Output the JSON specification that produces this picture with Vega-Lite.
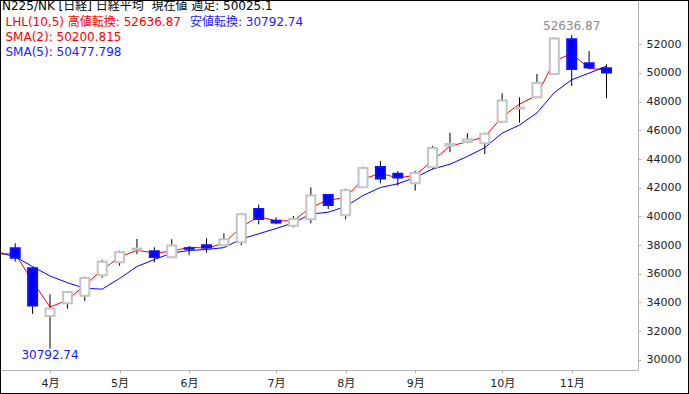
{
  "$schema": "https://vega.github.io/schema/vega-lite/v6.json",
  "width": 687,
  "height": 392,
  "padding": 1,
  "autosize": {"type": "none"},
  "background": "#000000",
  "config": {
    "view": {"fill": "#ffffff", "stroke": null},
    "font": "DejaVu Sans, Noto Sans CJK JP",
    "axis": {"labelOverlap": false, "labelFlush": false},
    "scale": {"continuousPadding": 0}
  },
  "datasets": {
    "candles": [
      {"d": "2025-03-17T00:00:00", "s2": 37365.08, "s5": 37509.95},
      {"d": "2025-03-24T00:00:00", "o": 37775, "h": 38124, "l": 36850, "c": 37120.33, "s2": 37398.70, "s5": 37178.63},
      {"d": "2025-03-31T00:00:00", "o": 36380, "h": 36450, "l": 33200, "c": 33780.58, "s2": 35450.46, "s5": 36503.65},
      {"d": "2025-04-07T00:00:00", "o": 33054, "h": 34567, "l": 30792.74, "c": 33585.58, "s2": 33683.08, "s5": 35843.33},
      {"d": "2025-04-14T00:00:00", "o": 33940, "h": 34760, "l": 33563, "c": 34730.28, "s2": 34157.93, "s5": 35378.77},
      {"d": "2025-04-21T00:00:00", "o": 34470, "h": 35795, "l": 34100, "c": 35705.74, "s2": 35218.01, "s5": 34984.50},
      {"d": "2025-04-28T00:00:00", "o": 35892, "h": 36959, "l": 35725, "c": 36830.69, "s2": 36268.22, "s5": 34926.57},
      {"d": "2025-05-05T00:00:00", "o": 36799, "h": 37608, "l": 36562, "c": 37503.33, "s2": 37167.01, "s5": 35671.12},
      {"d": "2025-05-12T00:00:00", "o": 37680, "h": 38424, "l": 37357, "c": 37753.72, "s2": 37628.53, "s5": 36504.75},
      {"d": "2025-05-19T00:00:00", "o": 37566, "h": 37845, "l": 36799, "c": 37160.47, "s2": 37457.10, "s5": 36990.79},
      {"d": "2025-05-26T00:00:00", "o": 37148, "h": 38403, "l": 37100, "c": 37965.10, "s2": 37562.79, "s5": 37442.66},
      {"d": "2025-06-02T00:00:00", "o": 37780, "h": 37935, "l": 37287, "c": 37741.61, "s2": 37853.36, "s5": 37624.85},
      {"d": "2025-06-09T00:00:00", "o": 37984, "h": 38472, "l": 37468, "c": 37834.25, "s2": 37787.93, "s5": 37691.03},
      {"d": "2025-06-16T00:00:00", "o": 37984, "h": 38821, "l": 37950, "c": 38403.23, "s2": 38118.74, "s5": 37820.93},
      {"d": "2025-06-23T00:00:00", "o": 38193, "h": 40215, "l": 37984, "c": 40150.79, "s2": 39277.01, "s5": 38419.00},
      {"d": "2025-06-30T00:00:00", "o": 40515, "h": 40815, "l": 39449, "c": 39810.88, "s2": 39980.84, "s5": 38788.15},
      {"d": "2025-07-07T00:00:00", "o": 39700, "h": 39937, "l": 39449, "c": 39569.68, "s2": 39690.28, "s5": 39153.77},
      {"d": "2025-07-14T00:00:00", "o": 39351, "h": 40027, "l": 39239, "c": 39819.11, "s2": 39694.40, "s5": 39550.74},
      {"d": "2025-07-21T00:00:00", "o": 39797, "h": 42029, "l": 39518, "c": 41456.23, "s2": 40637.67, "s5": 40161.34},
      {"d": "2025-07-28T00:00:00", "o": 41492, "h": 41550, "l": 40515, "c": 40799.60, "s2": 41127.92, "s5": 40291.10},
      {"d": "2025-08-04T00:00:00", "o": 40076, "h": 41931, "l": 39797, "c": 41820.48, "s2": 41310.04, "s5": 40693.02},
      {"d": "2025-08-11T00:00:00", "o": 42029, "h": 43465, "l": 41990, "c": 43378.31, "s2": 42599.40, "s5": 41454.75},
      {"d": "2025-08-18T00:00:00", "o": 43444, "h": 43862, "l": 42308, "c": 42633.29, "s2": 43005.80, "s5": 42017.58},
      {"d": "2025-08-25T00:00:00", "o": 42977, "h": 43165, "l": 42140, "c": 42718.47, "s2": 42675.88, "s5": 42270.03},
      {"d": "2025-09-01T00:00:00", "o": 42308, "h": 43165, "l": 41792, "c": 43018.75, "s2": 42868.61, "s5": 42713.86},
      {"d": "2025-09-08T00:00:00", "o": 43423, "h": 44908, "l": 43284, "c": 44768.12, "s2": 43893.44, "s5": 43303.39},
      {"d": "2025-09-15T00:00:00", "o": 44930, "h": 45836, "l": 44469, "c": 45045.81, "s2": 44906.97, "s5": 43636.89},
      {"d": "2025-09-22T00:00:00", "o": 45190, "h": 45794, "l": 45097, "c": 45354.99, "s2": 45200.40, "s5": 44181.23},
      {"d": "2025-09-29T00:00:00", "o": 45097, "h": 45830, "l": 44350, "c": 45769.50, "s2": 45562.25, "s5": 44791.43},
      {"d": "2025-10-06T00:00:00", "o": 46603, "h": 48583, "l": 46550, "c": 48088.80, "s2": 46929.15, "s5": 45805.44},
      {"d": "2025-10-13T00:00:00", "o": 47520, "h": 48304, "l": 46533, "c": 47582.15, "s2": 47835.48, "s5": 46368.25},
      {"d": "2025-10-20T00:00:00", "o": 48304, "h": 49929, "l": 48250, "c": 49299.65, "s2": 48440.90, "s5": 47219.02},
      {"d": "2025-10-27T00:00:00", "o": 49929, "h": 52480, "l": 49900, "c": 52411.34, "s2": 50855.50, "s5": 48630.29},
      {"d": "2025-11-03T00:00:00", "o": 52349, "h": 52636.87, "l": 49092, "c": 50276.37, "s2": 51343.86, "s5": 49531.66},
      {"d": "2025-11-10T00:00:00", "o": 50675, "h": 51533, "l": 50257, "c": 50376.53, "s2": 50326.45, "s5": 49989.21},
      {"d": "2025-11-17T00:00:00", "o": 50326, "h": 50605, "l": 48234, "c": 50025.10, "s2": 50200.82, "s5": 50477.80}
    ],
    "notes": [
      {"d": "2025-11-03T00:00:00", "v": 52636.87, "kind": "high"},
      {"d": "2025-04-07T00:00:00", "v": 30792.74, "kind": "low"}
    ]
  },
  "layer": [
    {
      "data": {"values": [{}]},
      "mark": {"type": "rule", "color": "#b4b4b4", "strokeWidth": 1},
      "encoding": {
        "x": {"datum": {"year": 2025, "month": 3, "date": 18, "hours": 6, "minutes": 37}, "type": "temporal",
              "scale": {"domain": [{"year": 2025, "month": 3, "date": 18, "hours": 6, "minutes": 37}, {"year": 2025, "month": 12, "date": 19, "hours": 19, "minutes": 26}], "nice": false, "padding": 0},
              "axis": {"orient": "bottom", "offset": -23, "domain": false, "grid": false, "ticks": true, "tickSize": 3, "tickColor": "#b4b4b4", "tickCount": 30,
                       "values": [{"year": 2025, "month": 4, "date": 7}, {"year": 2025, "month": 5, "date": 5}, {"year": 2025, "month": 6, "date": 2}, {"year": 2025, "month": 7, "date": 7}, {"year": 2025, "month": 8, "date": 4}, {"year": 2025, "month": 9, "date": 1}, {"year": 2025, "month": 10, "date": 6}, {"year": 2025, "month": 11, "date": 3}],
                       "format": "%-m月", "labelFontSize": 11, "labelColor": "#222222", "labelPadding": 4, "title": null, "labelFlush": false, "labelOverlap": false}},
        "x2": {"datum": {"year": 2025, "month": 11, "date": 29, "hours": 21, "minutes": 20}},
        "y": {"datum": 29254, "type": "quantitative",
              "scale": {"domain": [27685, 55019], "nice": false, "zero": false, "padding": 0},
              "axis": {"orient": "right", "offset": -50, "domain": false, "grid": false, "ticks": true, "tickSize": 3, "tickColor": "#b4b4b4", "tickCount": 30,
                       "values": [30000, 32000, 34000, 36000, 38000, 40000, 42000, 44000, 46000, 48000, 50000, 52000],
                       "format": "d", "labelFontSize": 11, "labelColor": "#222222", "labelPadding": 5, "title": null, "labelFlush": false, "labelOverlap": false}}
      }
    },
    {
      "data": {"values": [{}]},
      "mark": {"type": "rule", "color": "#b4b4b4", "strokeWidth": 1},
      "encoding": {
        "x": {"datum": {"year": 2025, "month": 11, "date": 29, "hours": 21, "minutes": 20}, "type": "temporal"},
        "y": {"datum": 29254, "type": "quantitative"},
        "y2": {"datum": 55019}
      }
    },
    {
      "data": {"name": "candles"},
      "mark": {"type": "line", "color": "#ff0000", "strokeWidth": 1, "clip": true},
      "encoding": {
        "x": {"field": "d", "type": "temporal"},
        "y": {"field": "s2", "type": "quantitative"}
      }
    },
    {
      "data": {"name": "candles"},
      "mark": {"type": "line", "color": "#0000ff", "strokeWidth": 1, "clip": true},
      "encoding": {
        "x": {"field": "d", "type": "temporal"},
        "y": {"field": "s5", "type": "quantitative"}
      }
    },
    {
      "data": {"name": "candles"},
      "transform": [{"filter": "isValid(datum.o)"}],
      "mark": {"type": "rule", "color": "#000000", "strokeWidth": 1},
      "encoding": {
        "x": {"field": "d", "type": "temporal"},
        "y": {"field": "l", "type": "quantitative"},
        "y2": {"field": "h"}
      }
    },
    {
      "data": {"name": "candles"},
      "transform": [{"filter": "isValid(datum.o)"}],
      "mark": {"type": "bar", "width": 9, "strokeWidth": 2},
      "encoding": {
        "x": {"field": "d", "type": "temporal"},
        "y": {"field": "o", "type": "quantitative"},
        "y2": {"field": "c"},
        "fill": {"condition": {"test": "datum.c >= datum.o", "value": "#ffffff"}, "value": "#0000ff"},
        "stroke": {"condition": {"test": "datum.c >= datum.o", "value": "#c4c4c4"}, "value": "#1010ff"}
      }
    },
    {
      "data": {"values": [{}]},
      "mark": {"type": "text", "text": "N225/NK [日経] 日経平均\u00a0 現在値 週足: 50025.1", "align": "left", "baseline": "alphabetic", "fontSize": 12, "color": "#000000"},
      "encoding": {
        "x": {"datum": {"year": 2025, "month": 3, "date": 18, "hours": 16, "minutes": 18}, "type": "temporal"},
        "y": {"datum": 54392, "type": "quantitative"}
      }
    },
    {
      "data": {"values": [{}]},
      "mark": {"type": "text", "text": "LHL(10,5) 高値転換: 52636.87", "align": "left", "baseline": "alphabetic", "fontSize": 12, "color": "#ff0000"},
      "encoding": {
        "x": {"datum": {"year": 2025, "month": 3, "date": 20, "hours": 2, "minutes": 6}, "type": "temporal"},
        "y": {"datum": 53297, "type": "quantitative"}
      }
    },
    {
      "data": {"values": [{}]},
      "mark": {"type": "text", "text": "安値転換: 30792.74", "align": "left", "baseline": "alphabetic", "fontSize": 12, "color": "#1a1aff"},
      "encoding": {
        "x": {"datum": {"year": 2025, "month": 6, "date": 2, "hours": 8, "minutes": 24}, "type": "temporal"},
        "y": {"datum": 53297, "type": "quantitative"}
      }
    },
    {
      "data": {"values": [{}]},
      "mark": {"type": "text", "text": "SMA(2): 50200.815", "align": "left", "baseline": "alphabetic", "fontSize": 12, "color": "#ff0000"},
      "encoding": {
        "x": {"datum": {"year": 2025, "month": 3, "date": 20, "hours": 2, "minutes": 6}, "type": "temporal"},
        "y": {"datum": 52251, "type": "quantitative"}
      }
    },
    {
      "data": {"values": [{}]},
      "mark": {"type": "text", "text": "SMA(5): 50477.798", "align": "left", "baseline": "alphabetic", "fontSize": 12, "color": "#1a1aff"},
      "encoding": {
        "x": {"datum": {"year": 2025, "month": 3, "date": 20, "hours": 2, "minutes": 6}, "type": "temporal"},
        "y": {"datum": 51205, "type": "quantitative"}
      }
    },
    {
      "data": {"name": "notes"},
      "transform": [{"filter": "datum.kind == 'high'"}],
      "mark": {"type": "text", "align": "center", "baseline": "alphabetic", "fontSize": 12, "color": "#8c8c8c", "dy": -5},
      "encoding": {
        "x": {"field": "d", "type": "temporal"},
        "y": {"field": "v", "type": "quantitative"},
        "text": {"field": "v", "type": "quantitative", "format": ".2f"}
      }
    },
    {
      "data": {"name": "notes"},
      "transform": [{"filter": "datum.kind == 'low'"}],
      "mark": {"type": "text", "align": "center", "baseline": "alphabetic", "fontSize": 12, "color": "#1a1aff", "dy": 11},
      "encoding": {
        "x": {"field": "d", "type": "temporal"},
        "y": {"field": "v", "type": "quantitative"},
        "text": {"field": "v", "type": "quantitative", "format": ".2f"}
      }
    }
  ]
}
